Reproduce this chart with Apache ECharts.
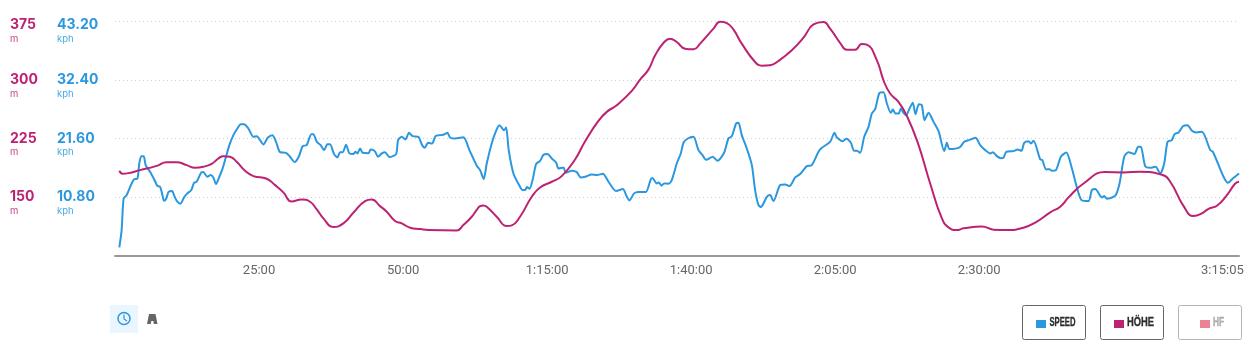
<!DOCTYPE html>
<html>
<head>
<meta charset="utf-8">
<style>
    html, body { margin: 0; padding: 0; background: #fff; }
    #chart { width: 1257px; height: 357px; }
</style>
</head>
<body>
<div id="chart"></div>
<script src="https://cdn.jsdelivr.net/npm/echarts@6/dist/echarts.min.js"></script>
<script>
// tick labels
const timeTicks = [1500, 3000, 4500, 6000, 7500, 9000, 11705];
const timeLabels = ['25:00', '50:00', '1:15:00', '1:40:00', '2:05:00', '2:30:00', '3:15:05'];
const hoeheTicks = [150, 225, 300, 375];
const speedTicks = [10.8, 21.6, 32.4, 43.2];

// speed: seconds / kph
const speedSeconds = [45,69,90,122,163,198,233,253,274,299,319,365,406,441,469,490,510,531,559,594,621,649,681,719,753,795,823,851,899,920,962,996,1024,1052,1087,1121,1156,1191,1233,1274,1309,1344,1389,1441,1476,1545,1590,1639,1677,1719,1781,1823,1871,1913,1955,1996,2045,2066,2101,2142,2177,2212,2239,2281,2316,2344,2371,2406,2441,2482,2503,2524,2552,2580,2639,2663,2705,2739,2778,2812,2857,2927,2948,2986,3024,3062,3100,3160,3177,3198,3225,3260,3302,3337,3385,3427,3462,3489,3541,3628,3691,3767,3802,3840,3871,3923,3968,4003,4052,4073,4100,4149,4218,4243,4271,4291,4316,4350,4385,4427,4462,4503,4548,4593,4618,4670,4694,4757,4809,4850,4896,4965,5017,5080,5139,5218,5288,5330,5357,5406,5451,5527,5580,5597,5642,5663,5691,5718,5764,5798,5850,5892,5920,5965,6024,6076,6118,6156,6225,6274,6343,6388,6423,6468,6493,6527,6579,6632,6666,6701,6729,6753,6788,6822,6857,6927,6979,7024,7083,7135,7204,7256,7326,7361,7447,7493,7517,7552,7579,7614,7663,7697,7725,7760,7802,7847,7881,7916,7961,8003,8038,8079,8100,8128,8163,8183,8211,8239,8274,8308,8336,8371,8402,8430,8472,8524,8579,8635,8663,8690,8795,8843,8892,8961,9010,9062,9114,9142,9183,9225,9253,9281,9357,9399,9440,9468,9513,9538,9565,9635,9656,9697,9732,9753,9795,9850,9906,9965,10010,10065,10138,10173,10208,10277,10301,10329,10416,10461,10510,10555,10614,10656,10683,10728,10781,10836,10885,10926,10961,11006,11034,11076,11121,11169,11215,11260,11319,11406,11433,11544,11590,11649,11705];
const speedKph = [1.59,4.77,10.59,11.2,12.91,14.08,14.2,17.01,18.36,18.36,16.71,15.48,14.14,12.91,12.73,11.51,10.16,10.47,11.81,11.93,10.89,9.98,9.61,10.77,11.51,12.12,13.46,13.65,15.36,15.42,14.57,14.87,14.44,13.22,14.57,16.1,18.24,20.38,22.22,23.44,24.24,24.24,23.44,21.91,22.03,20.5,21.73,22.22,20.99,19.09,18.97,18.24,17.26,18.24,20.2,20.38,22.4,22.4,20.99,20.38,19.46,20.56,20.56,18.73,18.12,19.09,19.09,20.44,18.85,18.73,19.16,18.85,19.77,18.97,18.91,19.58,19.28,18.24,18.85,19.09,18.18,18.73,21.3,21.91,21.42,22.64,22.03,21.91,21.3,20.38,19.89,20.81,20.69,22.03,22.22,22.34,22.64,21.79,21.6,21.85,19.46,16.59,15.79,14.14,17.01,20.69,23.01,24.05,23.13,23.62,19.46,15.18,12.73,12.12,12.12,12.67,12.36,14.08,16.89,17.5,18.6,18.73,17.93,17.2,16.1,16.28,15.3,15.67,15.42,14.44,14.57,14.99,14.87,15.12,13.65,11.93,12.3,10.89,10.22,11.51,11.75,11.75,14.14,14.32,13.34,13.53,12.91,13.34,13.28,13.95,17.01,18.85,20.81,21.6,21.91,19.46,18.54,17.69,18.24,17.5,18.97,21.6,22.03,24.36,24.48,22.22,19.77,16.71,12.12,9.36,9.0,9.67,10.89,11.2,10.1,13.04,13.16,12.85,14.44,15.06,16.52,16.71,19.16,19.89,20.99,22.64,21.79,21.3,21.11,21.54,20.81,19.34,19.34,18.97,21.91,23.75,26.19,26.99,29.99,30.11,28.03,26.32,26.93,26.19,26.19,27.11,26.32,25.89,27.11,28.15,26.07,27.91,27.72,24.97,26.32,24.66,22.83,19.28,20.81,19.65,19.95,20.99,21.3,21.73,20.38,19.46,18.85,19.09,18.36,17.99,18.05,19.16,19.28,19.58,19.34,20.81,21.11,20.69,21.18,17.75,17.63,15.91,15.97,15.67,15.73,18.24,19.03,16.1,13.04,10.28,10.1,12.12,12.3,10.77,11.02,10.53,11.08,13.34,18.24,19.09,18.73,20.07,20.07,16.52,16.22,16.4,15.18,17.01,20.99,21.3,22.4,22.71,23.87,24.05,23.01,22.71,22.83,19.46,19.16,14.57,13.46,14.38,15.18];

// hoehe: seconds / metres
const hoeheSeconds = [45,80,139,260,434,538,642,746,833,920,1007,1076,1128,1198,1267,1354,1441,1580,1667,1753,1840,1944,2031,2101,2170,2274,2378,2482,2604,2673,2760,2830,2916,2986,3073,3177,3264,3559,3628,3715,3765,3802,3836,3871,3975,4080,4132,4218,4340,4427,4548,4652,4791,4896,5034,5121,5225,5382,5468,5555,5625,5711,5781,5850,5937,6024,6093,6232,6302,6371,6441,6527,6666,6736,6822,6909,7048,7170,7274,7378,7447,7552,7621,7708,7777,7829,7934,8003,8072,8159,8246,8357,8489,8611,8680,8767,8836,9027,9149,9288,9461,9600,9739,9843,9930,10086,10312,10503,10676,10902,10989,11128,11232,11319,11388,11475,11579,11666,11705];
const hoeheM = [183.8,180,180.8,184.6,190.1,194.8,194.8,191,187.6,188.9,192.7,199.5,202.5,201.6,195.2,183.8,177,173.6,165.5,156.2,144.7,147.2,144.3,134.5,123,112,116.6,130.2,145.1,147.2,138.7,131.5,119.6,116.6,111.1,109.4,108.1,107.7,114.5,125.1,133.5,138.7,139.6,137.9,125.1,113.2,114.1,125.1,150.6,162.5,169.8,177,198.2,221.6,247.5,259,267.5,285.8,300.2,312.9,331.2,346.9,352.5,348.2,339.7,338.9,346.1,365.2,374.1,372.4,363.9,346.1,322.7,318,318.5,324,337.6,353.7,370.7,373.7,365.2,346.9,338.4,338.4,345.7,344.8,324.8,299.3,282.4,271.7,253.9,220.7,167.6,123,111.5,108.1,110.3,112.8,108.6,108.1,111.1,118.8,130.7,137.9,149.8,167.6,182.1,181.7,182.5,178.7,169.8,138.7,126,129.4,135.3,139.2,152.8,167.6,169.8];

const speedColor = '#2a97df';
const hoeheColor = '#bd2272';
const hfColor = '#ea8494';
const labelFont = 'Inter, "Noto Sans", sans-serif';

function zip(xs, ys) {
    return xs.map((x, i) => [x, ys[i]]);
}

// stacked value + unit label; spacer line moves the value up to the gridline,
// the top label sits a bit lower than the others
function stackedLabel(color, unit, decimals, topValue) {
    return {
        show: true,
        align: 'left',
        verticalAlign: 'middle',
        rich: {
            g: { fontSize: 1, lineHeight: 12 },
            t: { fontSize: 1, lineHeight: 20 },
            v: { fontFamily: labelFont, fontSize: 14, fontWeight: 700, color: color, lineHeight: 16 },
            u: { fontFamily: labelFont, fontSize: 9.5, color: color, opacity: 0.85, lineHeight: 12 }
        },
        formatter: function (value) {
            const top = value === topValue ? 't' : 'g';
            return '{' + top + '| }\n{v|' + value.toFixed(decimals) + '}\n{u|' + unit + '}';
        }
    };
}

// only the swatch comes from the legend, the squeezed caption is drawn in buttonText
function legendButton(name, left) {
    return {
        data: [name],
        left: left,
        top: 315,
        icon: 'rect',
        itemWidth: 10,
        itemHeight: 8,
        itemGap: 0,
        selectedMode: false,
        formatter: function () {
            return '';
        }
    };
}

function buttonBox(x, stroke) {
    return {
        type: 'rect',
        shape: { x: x + 0.5, y: 305.5, width: 63, height: 34, r: 2 },
        style: { fill: 'none', stroke: stroke, lineWidth: 1 }
    };
}

function buttonText(name, x, color, squeeze) {
    return {
        type: 'text',
        x: x,
        y: 323,
        scaleX: squeeze,
        style: {
            text: name,
            fontFamily: '"Liberation Sans", sans-serif',
            fontSize: 12,
            fontWeight: 'bold',
            fill: color,
            stroke: color,
            lineWidth: 0.3,
            verticalAlign: 'middle'
        }
    };
}

var myChart = echarts.init(document.getElementById('chart'));

var option = {
    animation: false,
    backgroundColor: '#fff',
    grid: { left: 115, right: 18, top: 21, bottom: 101 },
    legend: [
        legendButton('SPEED', 1031),
        legendButton('HÖHE', 1109),
        legendButton('HF', 1195)
    ],
    xAxis: {
        type: 'value',
        min: 0,
        max: 11705,
        splitLine: { show: false },
        axisLine: { show: true, lineStyle: { color: '#999', width: 2 } },
        axisTick: { show: false },
        axisLabel: {
            customValues: timeTicks,
            margin: 8,
            fontFamily: 'Roboto, sans-serif',
            fontSize: 13,
            color: '#666',
            rich: {
                last: { width: 76, align: 'left', fontFamily: 'Roboto, sans-serif', fontSize: 13, color: '#666' }
            },
            formatter: function (value) {
                const text = timeLabels[timeTicks.indexOf(value)];
                return value === 11705 ? '{last|' + text + '}' : text;
            }
        }
    },
    yAxis: [
        {
            type: 'value',
            position: 'left',
            min: 75,
            max: 375,
            interval: 75,
            axisLine: { show: false },
            axisTick: { show: false },
            splitLine: { show: true, lineStyle: { color: '#cfcfcf', type: [1, 3], width: 1 } },
            axisLabel: Object.assign(stackedLabel(hoeheColor, 'm', 0, 375), { customValues: hoeheTicks, margin: 105 })
        },
        {
            type: 'value',
            position: 'left',
            min: 0,
            max: 43.2,
            interval: 10.8,
            axisLine: { show: false },
            axisTick: { show: false },
            splitLine: { show: false },
            axisLabel: Object.assign(stackedLabel(speedColor, 'kph', 2, 43.2), { customValues: speedTicks, margin: 58 })
        }
    ],
    series: [
        {
            name: 'SPEED',
            type: 'line',
            yAxisIndex: 1,
            showSymbol: false,
            smooth: 0.25,
            color: speedColor,
            lineStyle: { width: 2 },
            data: zip(speedSeconds, speedKph)
        },
        {
            name: 'HÖHE',
            type: 'line',
            yAxisIndex: 0,
            showSymbol: false,
            smooth: 0.5,
            color: hoeheColor,
            lineStyle: { width: 2 },
            data: zip(hoeheSeconds, hoeheM)
        },
        {
            name: 'HF',
            type: 'line',
            showSymbol: false,
            color: hfColor,
            data: []
        }
    ],
    graphic: [
        buttonBox(1022, '#666'),
        buttonBox(1100, '#666'),
        buttonBox(1178, '#b5b5b5'),
        buttonText('SPEED', 1049.5, '#2b2b2b', 0.64),
        buttonText('HÖHE', 1127, '#2b2b2b', 0.78),
        buttonText('HF', 1213, '#aaaaaa', 0.7),
        // zeit / strecke umschalter unten links
        { type: 'rect', shape: { x: 110, y: 305, width: 28, height: 28 }, style: { fill: '#ebf5fd' } },
        { type: 'circle', shape: { cx: 124, cy: 318.5, r: 6 }, style: { fill: 'none', stroke: speedColor, lineWidth: 1.5 } },
        { type: 'polyline', shape: { points: [[124, 314.5], [124, 319], [127, 321]] }, style: { fill: 'none', stroke: speedColor, lineWidth: 1.2 } },
        { type: 'polygon', shape: { points: [[147, 324], [149, 314], [155.5, 314], [157.5, 324], [153.8, 324], [153.3, 321], [151.3, 321], [150.8, 324]] }, style: { fill: '#666' } }
    ]
};

myChart.setOption(option);
</script>
</body>
</html>
